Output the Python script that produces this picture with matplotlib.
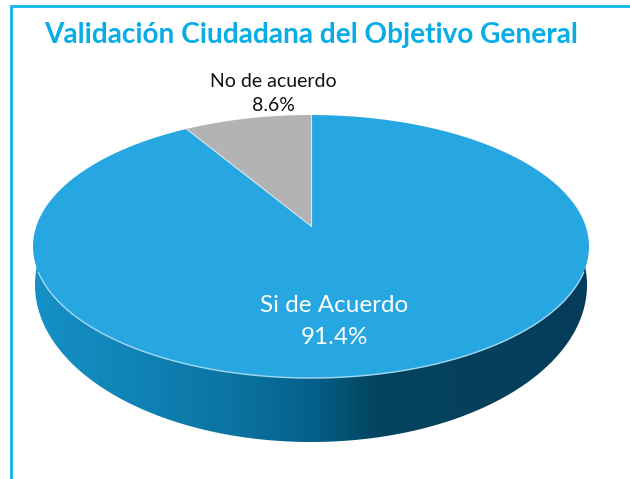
import numpy as np
import matplotlib
matplotlib.use('Agg')
import matplotlib.pyplot as plt
from matplotlib.colors import LinearSegmentedColormap
from matplotlib.patches import Polygon

title = 'Validación Ciudadana del Objetivo General'
labels = ['No de acuerdo', 'Si de Acuerdo']
shares = [8.6, 91.4]
slice_colors = ['#b3b3b3', '#27a7e1']

# pie geometry in pixels
cx, cy = 311, 226      # apex of the slices, above the ellipse centre
a, b, k = 274.6, 128.3, 0.156


def project(theta):
    "Circle angle (degrees, 0 = top, going left) to tilted disc pixels."
    t = np.radians(theta)
    u, v = -np.sin(t), np.cos(t)
    w = 1 + k * v
    return cx + a * u / w, cy - b * v / w


fig = plt.figure(figsize=(6.3, 4.79), dpi=100)
ax = fig.add_axes([0, 0, 1, 1])

# side wall, a lower ellipse that the top of the disc covers
tt = np.radians(np.linspace(-10, 190, 300))
wall = Polygon(np.column_stack([311 + 276 * np.cos(tt), 285 + 157 * np.sin(tt)]),
               closed=True, fc='none', ec='none')
ax.add_patch(wall)
cmap = LinearSegmentedColormap.from_list('wall', [
    (0.0, '#1690c6'), (0.2, '#0f82b4'), (0.38, '#0a719f'), (0.5, '#05618a'),
    (0.62, '#04445f'), (1.0, '#053c5a')])
im = ax.imshow(np.linspace(0, 1, 256)[None, :], cmap=cmap, aspect='auto',
               extent=[33, 589, 460, 230], zorder=1)
im.set_clip_path(wall)

# top of the disc
start = 0
for share, color in zip(shares, slice_colors):
    end = start + share * 3.6
    xs, ys = project(np.linspace(start, end, 200))
    ax.fill(np.r_[cx, xs], np.r_[cy, ys], fc=color, ec='none', zorder=2)
    # light line along the slice side
    ex, ey = project(start)
    ax.plot([cx, ex], [cy, ey], color='#d5e6ee', lw=0.8, zorder=3)
    start = end

# light rim on the front edge
x_rim, y_rim = project(np.linspace(110, 250, 200))
ax.plot(x_rim, y_rim, color='#a5d9f0', lw=1, zorder=3)

# frame, only left and top
ax.plot([10.5, 10.5, 630], [479, 6.3, 6.3], color='#0db7ed', lw=2, zorder=4,
        solid_joinstyle='miter')

ax.text(311.5, 35, title, color='#08ade6', fontsize=20.2, fontweight='bold',
        family='Lato', ha='center', va='center')
ax.text(273, 81.5, labels[0], color='#111111', fontsize=14, family='Lato',
        ha='center', va='center')
ax.text(273, 105, '%.1f%%' % shares[0], color='#111111', fontsize=14,
        family='Lato', ha='center', va='center')
ax.text(334, 305, labels[1], color='white', fontsize=17.5, family='Lato',
        ha='center', va='center', zorder=5)
ax.text(334, 337, '%.1f%%' % shares[1], color='white', fontsize=17.5,
        family='Lato', ha='center', va='center', zorder=5)

ax.set_xlim(0, 630)
ax.set_ylim(479, 0)
ax.axis('off')

fig.savefig('out.png', dpi=100)
